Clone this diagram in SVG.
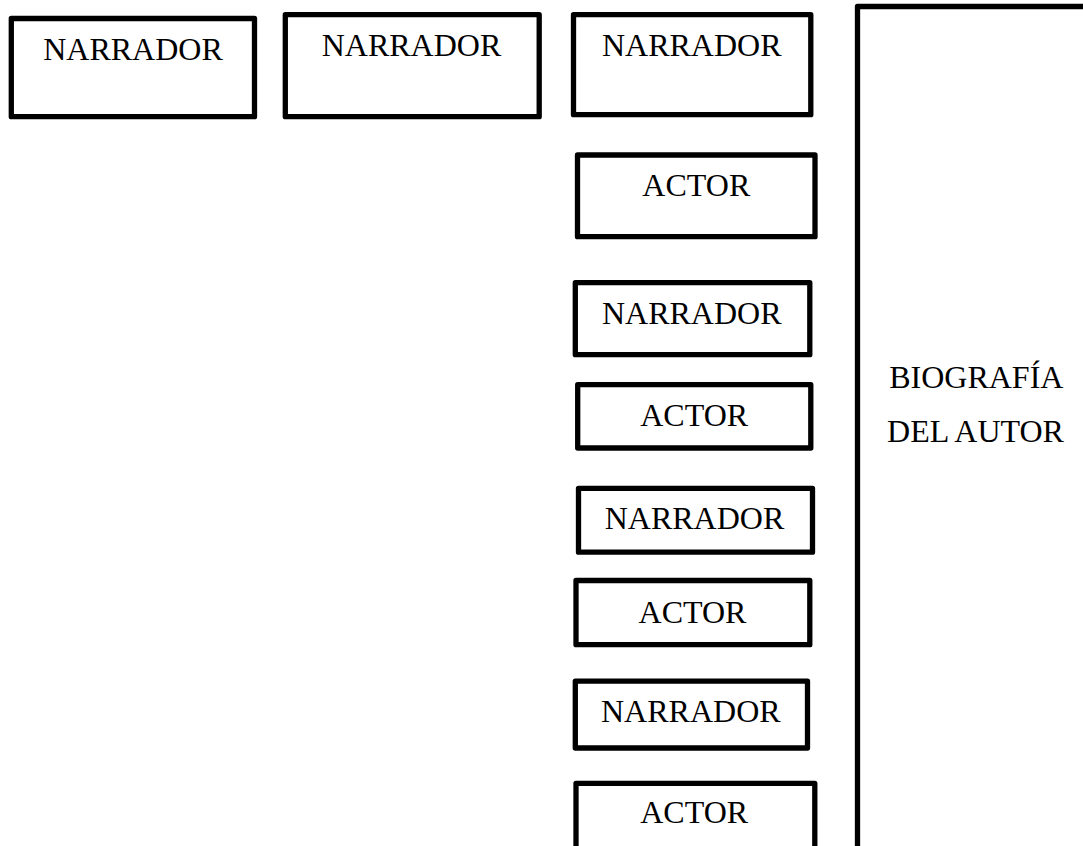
<svg xmlns="http://www.w3.org/2000/svg" width="1083" height="846" viewBox="0 0 1083 846">
  <style>
    .box { fill: #ffffff; stroke: #000000; stroke-width: 5.3; stroke-linejoin: round; }
    .lbl { font-family: "Liberation Serif", "Times New Roman", serif; font-size: 32px; fill: #000000; text-anchor: middle; }
  </style>
  <rect width="1083" height="846" fill="#ffffff"/>

  <!-- top row of narrator boxes -->
  <g id="narrador-1">
    <rect class="box" x="11.3" y="18.5" width="243.2" height="98.2"/>
    <text class="lbl" x="133" y="60">NARRADOR</text>
  </g>
  <g id="narrador-2">
    <rect class="box" x="285.3" y="14.7" width="253.9" height="102"/>
    <text class="lbl" x="411.5" y="56">NARRADOR</text>
  </g>

  <!-- column of alternating narrator / actor boxes -->
  <g id="narrador-3">
    <rect class="box" x="573.5" y="14.7" width="237.3" height="100"/>
    <text class="lbl" x="691.7" y="56">NARRADOR</text>
  </g>
  <g id="actor-1">
    <rect class="box" x="577.5" y="155" width="237.5" height="81.7"/>
    <text class="lbl" x="696.3" y="196">ACTOR</text>
  </g>
  <g id="narrador-4">
    <rect class="box" x="575.3" y="282.7" width="234.5" height="72"/>
    <text class="lbl" x="691.7" y="324">NARRADOR</text>
  </g>
  <g id="actor-2">
    <rect class="box" x="577.7" y="384.7" width="233.1" height="63.3"/>
    <text class="lbl" x="694.2" y="426">ACTOR</text>
  </g>
  <g id="narrador-5">
    <rect class="box" x="578.5" y="488.3" width="234" height="63.9"/>
    <text class="lbl" x="694.5" y="529.3">NARRADOR</text>
  </g>
  <g id="actor-3">
    <rect class="box" x="576" y="580.5" width="233.8" height="64.2"/>
    <text class="lbl" x="692.5" y="622.7">ACTOR</text>
  </g>
  <g id="narrador-6">
    <rect class="box" x="575.3" y="681.2" width="232.2" height="66.8"/>
    <text class="lbl" x="690.8" y="722.3">NARRADOR</text>
  </g>
  <g id="actor-4">
    <rect class="box" x="576" y="783.3" width="238.8" height="80"/>
    <text class="lbl" x="694.2" y="823.3">ACTOR</text>
  </g>

  <!-- tall biography panel running off the right and bottom edges -->
  <g id="biografia">
    <rect class="box" x="857.5" y="6.5" width="260" height="870"/>
    <text class="lbl" x="976.3" y="388.3">BIOGRAFÍA</text>
    <text class="lbl" x="975.5" y="442.3">DEL AUTOR</text>
  </g>

  <g id="connectors"></g>
</svg>
